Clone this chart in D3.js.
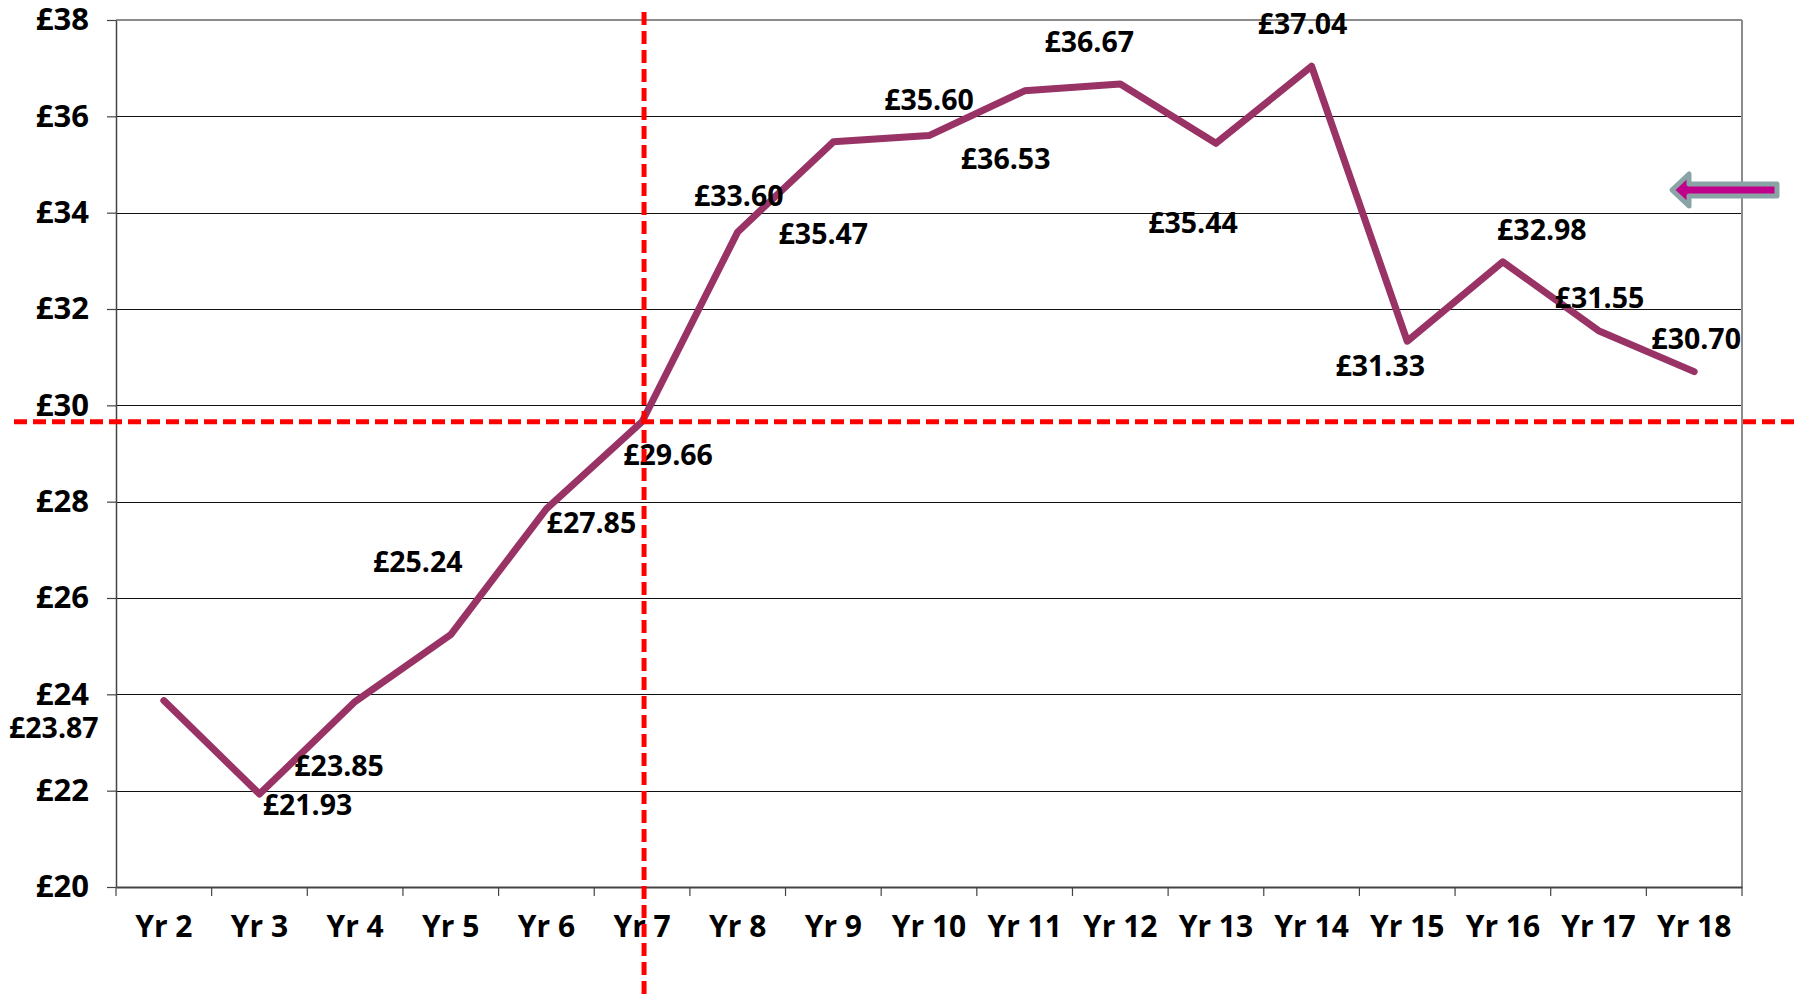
<!DOCTYPE html>
<meta charset="utf-8">
<script src="https://d3js.org/d3.v7.min.js"></script>
<style>
  body { margin: 0; background: #fff; }
  text { font-family: "Open Sans", sans-serif; font-weight: 700; fill: #000; }
</style>
<div id="my_dataviz"></div>
<script>

// data
var years = ["Yr 2", "Yr 3", "Yr 4", "Yr 5", "Yr 6", "Yr 7", "Yr 8", "Yr 9", "Yr 10",
             "Yr 11", "Yr 12", "Yr 13", "Yr 14", "Yr 15", "Yr 16", "Yr 17", "Yr 18"];
var prices = [23.87, 21.93, 23.85, 25.24, 27.85, 29.66, 33.60, 35.47, 35.60,
              36.53, 36.67, 35.44, 37.04, 31.33, 32.98, 31.55, 30.70];
var yTicks = [20, 22, 24, 26, 28, 30, 32, 34, 36, 38];
var markYear = "Yr 7";
var markValue = 29.66;

// where each data label sits relative to its point (px)
var labelNudge = [[-110, 27], [48, 11], [-16, 64], [-33, -73], [45, 14], [26, 33],
                  [1, -36], [-10, 92], [0, -36], [-19, 68], [-31, -42], [-23, 80],
                  [-9, -42], [-27, 25], [39, -32], [1, -33], [2, -33]];

var W = 1796, H = 995;
var margin = {top: 20, right: 54, bottom: 108, left: 116},
    width = W - margin.left - margin.right,
    height = H - margin.top - margin.bottom;

var svg = d3.select("#my_dataviz")
  .append("svg")
    .attr("width", W)
    .attr("height", H);

var g = svg.append("g")
    .attr("transform", "translate(" + margin.left + "," + margin.top + ")");

var x = d3.scaleBand()
  .domain(years)
  .range([0, width])
  .padding(0);

var y = d3.scaleLinear()
  .domain([20, 38])
  .range([height, 0]);

// gridlines
g.append("g")
  .selectAll("line")
  .data(yTicks.filter(function(d) { return d > 20 && d < 38; }))
  .enter()
  .append("line")
    .attr("x1", 0)
    .attr("x2", width)
    .attr("y1", function(d) { return Math.round(y(d)) + 0.5; })
    .attr("y2", function(d) { return Math.round(y(d)) + 0.5; })
    .attr("stroke", "#111")
    .attr("stroke-width", 1.2);

// plot border top / right
g.append("line")
  .attr("x1", 0).attr("x2", width)
  .attr("y1", y(38)).attr("y2", y(38))
  .attr("stroke", "#8c8c8c").attr("stroke-width", 2);
g.append("line")
  .attr("x1", width).attr("x2", width)
  .attr("y1", y(38)).attr("y2", height)
  .attr("stroke", "#8c8c8c").attr("stroke-width", 2);

// Y axis
var yAxis = g.append("g")
  .call(d3.axisLeft(y)
    .tickValues(yTicks)
    .tickFormat(function(d) { return "£" + d; })
    .tickSize(9)
    .tickPadding(18)
    .tickSizeOuter(0));
yAxis.select(".domain").attr("stroke", "#444").attr("stroke-width", 1.5);
yAxis.selectAll(".tick line").attr("stroke", "#444").attr("stroke-width", 1.2);
yAxis.selectAll("text")
  .style("font-size", "31px")
  .attr("fill", "#000");

// X axis, ticks on the category boundaries
var xAxis = g.append("g")
  .attr("transform", "translate(0," + height + ")")
  .call(d3.axisBottom(x).tickSize(0).tickPadding(29));
xAxis.select(".domain").attr("stroke", "#444").attr("stroke-width", 2);
xAxis.selectAll("text").style("font-size", "30px").attr("fill", "#000");
xAxis.selectAll(".bound")
  .data(years.concat(["end"]))
  .enter()
  .append("line")
    .attr("class", "bound")
    .attr("x1", function(d, i) { return i < years.length ? x(d) : width; })
    .attr("x2", function(d, i) { return i < years.length ? x(d) : width; })
    .attr("y1", 0)
    .attr("y2", 9)
    .attr("stroke", "#444")
    .attr("stroke-width", 1.2);

// the line
var line = d3.line()
  .x(function(d, i) { return x(years[i]) + x.bandwidth() / 2; })
  .y(function(d) { return y(d); });

g.append("path")
  .datum(prices)
  .attr("fill", "none")
  .attr("stroke", "#993366")
  .attr("stroke-width", 7)
  .attr("stroke-linejoin", "round")
  .attr("stroke-linecap", "round")
  .attr("d", line);

// data labels
g.selectAll(".lbl")
  .data(prices)
  .enter()
  .append("text")
    .attr("class", "lbl")
    .attr("x", function(d, i) { return x(years[i]) + x.bandwidth() / 2 + labelNudge[i][0]; })
    .attr("y", function(d, i) { return y(d) + labelNudge[i][1]; })
    .attr("dy", "0.35em")
    .attr("text-anchor", "middle")
    .style("font-size", "28.5px")
    .text(function(d) { return "£" + d.toFixed(2); });

// red dashed reference lines
var mx = margin.left + x(markYear) + x.bandwidth() / 2 + 2;
var my = margin.top + y(markValue);
svg.append("line")
  .attr("x1", 14).attr("x2", W)
  .attr("y1", my).attr("y2", my)
  .attr("stroke", "#ff0000")
  .attr("stroke-width", 5)
  .attr("stroke-dasharray", "13,6");
svg.append("line")
  .attr("x1", mx).attr("x2", mx)
  .attr("y1", 12).attr("y2", H)
  .attr("stroke", "#ff0000")
  .attr("stroke-width", 5)
  .attr("stroke-dasharray", "13,6");

// block arrow on the right
var ax = 1672, ay = 190;
svg.append("path")
  .attr("d", "M" + ax + "," + ay +
             " l17,-16 l0,10 l88,0 l0,12 l-88,0 l0,10 z")
  .attr("fill", "#c0008a")
  .attr("stroke", "#8aa4a6")
  .attr("stroke-width", 5)
  .attr("stroke-linejoin", "round");

</script>
